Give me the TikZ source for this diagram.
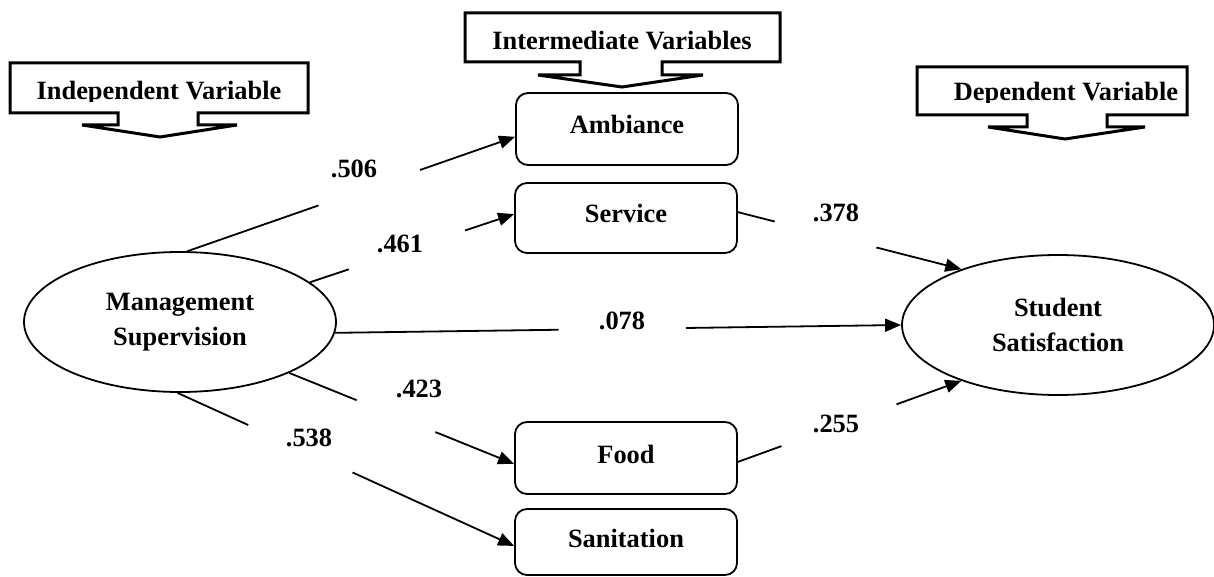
\documentclass[tikz,border=0pt]{standalone}
\usepackage{fontspec}
\setmainfont{Liberation Serif}
\usetikzlibrary{shapes.geometric, arrows.meta, calc}

\begin{document}
\begin{tikzpicture}[x=0.5pt, y=-0.5pt,
    every node/.style={font=\fontsize{13.2}{17.5}\selectfont\bfseries},
    latent/.style={draw, ellipse, line width=0.9pt, inner sep=0pt, minimum width=156pt, minimum height=70pt, align=center},
    factor/.style={draw, rounded corners=6pt, line width=0.9pt, minimum width=111pt, text height=9pt, text depth=4pt},
    callout/.style={draw, line width=1.5pt},
    link/.style={line width=0.9pt},
    arc/.style={link, -{Triangle[length=8pt, width=6.5pt]}},
    coef/.style={inner sep=0pt}]
  \useasboundingbox (0,0) rectangle (1214,577);
  % Heading callouts
  \draw[callout] (10,63) -- (308,63) -- (308,113) -- (198,113) -- (198,125) -- (237,125)
    -- (160,137) -- (82,125) -- (118,125) -- (118,113) -- (10,113) -- cycle;
  \begin{scope}
    \clip (10,63) rectangle (308,102);
    \node[anchor=base] (indep) at (159,100) {Independent Variable};
  \end{scope}
  \draw[callout] (465,13) -- (780,13) -- (780,62) -- (662,62) -- (662,75) -- (703,75)
    -- (622,87) -- (538,75) -- (580,75) -- (580,62) -- (465,62) -- cycle;
  \node[anchor=base] (inter) at (622,50) {Intermediate Variables};
  \draw[callout] (917,67) -- (1187,67) -- (1187,115) -- (1107,115) -- (1107,127) -- (1145,127)
    -- (1065,139) -- (988,127) -- (1027,127) -- (1027,115) -- (917,115) -- cycle;
  \begin{scope}
    \clip (917,67) rectangle (1187,103);
    \node[anchor=base] (dep) at (1066,101) {Dependent Variable};
  \end{scope}
  % Variables
  \node[latent] (ms) at (180,322) {Management\\Supervision};
  \node[latent] (ss) at (1058,325) {Student\\Satisfaction};
  \node[factor, minimum height=36pt] (amb) at (627,129) {Ambiance};
  \node[factor, minimum height=35pt] (srv) at (626,218) {Service};
  \node[factor, minimum height=36pt] (food) at (626,458) {Food};
  \node[factor, minimum height=33pt] (san) at (626,542) {Sanitation};
  % Paths, broken where the coefficients sit
  \coordinate (p1) at ($(ms.84)!0.40!(amb.184)$);
  \coordinate (q1) at ($(ms.84)!0.71!(amb.184)$);
  \draw[link] (ms.84) -- (p1);
  \draw[arc] (q1) -- (amb.184);
  \coordinate (p2) at ($(ms.17)!0.19!(srv.178)$);
  \coordinate (q2) at ($(ms.17)!0.76!(srv.178)$);
  \draw[link] (ms.17) -- (p2);
  \draw[arc] (q2) -- (srv.178);
  \coordinate (p3) at ($(ms.-4)!0.395!(ss.west)$);
  \coordinate (q3) at ($(ms.-4)!0.62!(ss.west)$);
  \draw[link] (ms.-4) -- (p3);
  \draw[arc] (q3) -- (ss.west);
  \coordinate (p4) at ($(ms.-25)!0.30!(food.183)$);
  \coordinate (q4) at ($(ms.-25)!0.65!(food.183)$);
  \draw[link] (ms.-25) -- (p4);
  \draw[arc] (q4) -- (food.183);
  \coordinate (p5) at ($(ms.268)!0.21!(san.182)$);
  \coordinate (q5) at ($(ms.268)!0.52!(san.182)$);
  \draw[link] (ms.268) -- (p5);
  \draw[arc] (q5) -- (san.182);
  \coordinate (p6) at ($(srv.3)!0.165!(ss.150)$);
  \coordinate (q6) at ($(srv.3)!0.62!(ss.150)$);
  \draw[link] (srv.3) -- (p6);
  \draw[arc] (q6) -- (ss.150);
  \coordinate (p7) at ($(food.-2)!0.195!(ss.210)$);
  \coordinate (q7) at ($(food.-2)!0.71!(ss.210)$);
  \draw[link] (food.-2) -- (p7);
  \draw[arc] (q7) -- (ss.210);
  % Coefficients
  \node[coef] (c506) at (354,169) {.506};
  \node[coef] (c461) at (400,244) {.461};
  \node[coef] (c078) at (622,321) {.078};
  \node[coef] (c423) at (419,389) {.423};
  \node[coef] (c538) at (309,438) {.538};
  \node[coef] (c378) at (836,213) {.378};
  \node[coef] (c255) at (836,424) {.255};
\end{tikzpicture}
\end{document}
